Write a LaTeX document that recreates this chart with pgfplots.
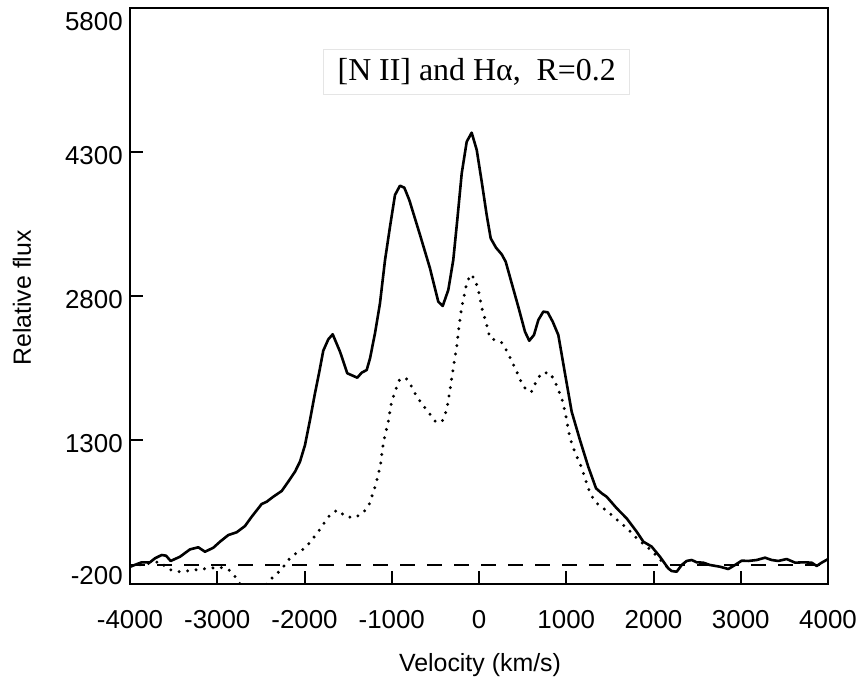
\documentclass[border=0pt]{standalone}
\usepackage{fontspec}
\setmainfont{Liberation Sans}
\newfontfamily\seriffont{Liberation Serif}
\usepackage{pgfplots}
\pgfplotsset{compat=1.18}
\usepackage{pgfplotstable}

\pgfplotstableread{
x y
-4000 -20
-3866 26
-3771 26
-3713 68
-3637 102
-3587 95
-3534 40
-3427 84
-3312 161
-3217 182
-3140 136
-3045 178
-2968 241
-2873 310
-2777 339
-2682 404
-2605 501
-2491 633
-2433 657
-2358 709
-2261 769
-2186 866
-2109 970
-2052 1074
-1994 1248
-1937 1508
-1880 1787
-1830 2012
-1785 2230
-1727 2349
-1677 2401
-1593 2220
-1510 1995
-1395 1949
-1345 2001
-1287 2029
-1249 2151
-1192 2412
-1135 2724
-1077 3175
-1020 3522
-963 3852
-906 3949
-856 3928
-799 3800
-676 3436
-562 3089
-467 2741
-416 2696
-352 2863
-295 3175
-249 3592
-198 4078
-141 4407
-84 4501
-26 4321
31 3991
88 3644
134 3401
195 3303
260 3234
306 3157
375 2932
450 2689
527 2428
576 2334
630 2394
680 2550
737 2637
787 2630
845 2532
909 2394
985 1995
1062 1595
1157 1300
1252 1022
1341 797
1406 745
1463 709
1578 589
1692 484
1807 345
1883 241
1979 189
2074 84
2169 -37
2208 -65
2266 -72
2323 -2
2380 40
2438 50
2495 26
2571 22
2647 -2
2762 -20
2857 -44
2934 -2
3011 43
3087 40
3183 50
3278 74
3354 50
3430 40
3526 60
3624 22
3717 26
3813 22
3870 -12
3927 22
3996 57
}\solidtable

\pgfplotstableread{
x y
-3981 -12
-3771 16
-3656 32
-3561 -47
-3446 -72
-3312 -61
-3198 -47
-3083 -36
-2968 -26
-2873 -47
-2777 -141
-2700 -260
-2600 -300
-2500 -260
-2433 -200
-2358 -124
-2261 -47
-2186 50
-2090 126
-1994 172
-1917 258
-1842 345
-1777 432
-1708 519
-1624 571
-1524 501
-1421 491
-1326 543
-1257 633
-1218 738
-1181 842
-1154 943
-1127 1057
-1097 1266
-1070 1376
-1040 1491
-1012 1654
-986 1738
-963 1803
-917 1920
-840 1949
-771 1855
-714 1751
-645 1665
-570 1578
-493 1484
-421 1498
-370 1613
-333 1821
-295 2047
-256 2272
-229 2480
-198 2689
-169 2810
-141 2932
-95 3026
-46 2974
-8 2863
38 2654
80 2529
126 2359
183 2342
260 2314
324 2220
378 2116
432 2012
479 1915
536 1826
599 1800
657 1912
718 1998
813 2000
873 1904
919 1800
963 1691
1000 1529
1031 1373
1062 1266
1112 1144
1157 1057
1203 935
1272 745
1341 647
1425 589
1521 519
1616 439
1700 380
1788 293
1883 217
1979 147
2063 68
2169 -37
}\dottedtable

\begin{document}
\begin{tikzpicture}[x=1bp,y=1bp]
\useasboundingbox (0,0) rectangle (862,681);
\begin{axis}[
  at={(130bp,97bp)}, anchor=south west,
  scale only axis, width=698bp, height=576bp,
  xmin=-4000, xmax=4000, ymin=-200, ymax=5800,
  xtick={-4000,-3000,...,4000},
  ytick={-200,1300,2800,4300,5800},
  yticklabels={\raisebox{12bp}{-200},1300,2800,4300,\raisebox{-10bp}{5800}},
  scaled ticks=false,
  tick align=inside, tick pos=left,
  major tick length=13bp,
  line width=2bp,
  every tick/.style={black, line width=2bp},
  tick label style={font=\fontsize{26}{30}\selectfont},
  /pgf/number format/assume math mode=true,
  /pgf/number format/1000 sep={},
  yticklabel style={anchor=base east, xshift=-3bp, yshift=-13bp},
  xticklabel style={yshift=-22bp},
]
\addplot[black, line width=2bp, dash pattern=on 15bp off 12bp] coordinates {(-4000,0) (4000,0)};
\addplot[black, line width=3.3bp, line cap=round, dash pattern=on 0bp off 8.5bp] table[x=x,y=y] {\dottedtable};
\addplot[black, line width=2.6bp, line join=round] table[x=x,y=y] {\solidtable};
\node[draw=black!10, line width=1.2bp, fill=white, inner xsep=14bp, minimum height=45bp,
      font=\seriffont\fontsize{32}{36}\selectfont]
  at (axis cs:-26,5137) {[N II] and Hα,\ \ R=0.2};
\end{axis}
\node[rotate=90, font=\fontsize{25}{30}\selectfont] at (22,383) {Relative flux};
\node[font=\fontsize{25}{30}\selectfont] at (480,16) {Velocity (km/s)};
\end{tikzpicture}
\end{document}
